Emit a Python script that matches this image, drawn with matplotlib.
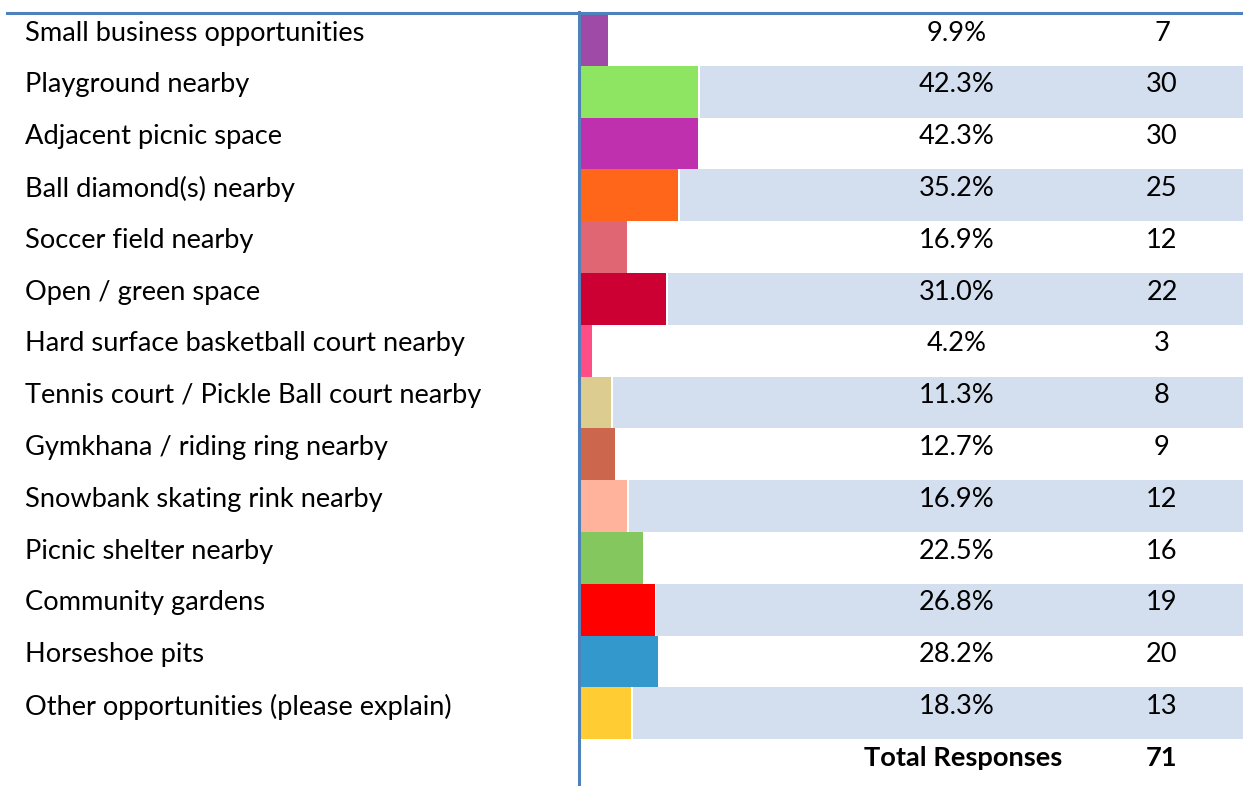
import matplotlib.pyplot as plt
from matplotlib.transforms import blended_transform_factory

# Survey results
options = [
    "Small business opportunities",
    "Playground nearby",
    "Adjacent picnic space",
    "Ball diamond(s) nearby",
    "Soccer field nearby",
    "Open / green space",
    "Hard surface basketball court nearby",
    "Tennis court / Pickle Ball court nearby",
    "Gymkhana / riding ring nearby",
    "Snowbank skating rink nearby",
    "Picnic shelter nearby",
    "Community gardens",
    "Horseshoe pits",
    "Other opportunities (please explain)",
]
percents = [9.9, 42.3, 42.3, 35.2, 16.9, 31.0, 4.2, 11.3, 12.7, 16.9, 22.5, 26.8, 28.2, 18.3]
counts = [7, 30, 30, 25, 12, 22, 3, 8, 9, 12, 16, 19, 20, 13]
total_responses = 71

bar_colors = [
    "#9E4AA6", "#8EE562", "#BF30AE", "#FF661A", "#DF6672", "#CC0033", "#FF4D88",
    "#DDCC90", "#CC664D", "#FFB39C", "#84C75E", "#FF0000", "#3399CC", "#FFCC33",
]
band_color = "#D3DFEF"
line_color = "#4F81BD"

plt.rcParams["font.family"] = ["Lato", "DejaVu Sans"]

W, H = 1243, 786
fig = plt.figure(figsize=(W / 100, H / 100), dpi=100)

# bar area: starts right of the vertical rule, 2.78 px per percent
px_per_pct = 2.78
x0, y_top = 580, 14
row_h = 51.8
ax = fig.add_axes([x0 / W, 0, (W - x0) / W, (H - y_top) / H])
ax.set_xlim(0, (W - x0) / px_per_pct)
n_rows = (H - y_top) / row_h
ax.set_ylim(n_rows - 0.5, -0.5)
ax.axis("off")

rows = list(range(len(options)))

# alternating light blue bands (every second row), starting just after the bar
band_rows = [i for i in rows if i % 2 == 1]
ax.barh(band_rows, ax.get_xlim()[1], left=[percents[i] + 0.7 for i in band_rows],
        height=1.0, color=band_color, linewidth=0, zorder=1)
ax.barh(rows, percents, left=0, height=1.0, color=bar_colors, linewidth=0, zorder=2)

# text columns (x in figure pixels, y in rows)
tr = blended_transform_factory(fig.transFigure, ax.transData)
fs = 19.6
dy = -0.13
for i in rows:
    fig.text(25 / W, i + dy, options[i], transform=tr, ha="left", va="center", fontsize=fs)
    fig.text(957 / W, i + dy, f"{percents[i]:.1f}%", transform=tr, ha="center", va="center", fontsize=fs)
    fig.text(1162 / W, i + dy, str(counts[i]), transform=tr, ha="center", va="center", fontsize=fs)

tot = len(options)
fig.text(1062 / W, tot + dy, "Total Responses", transform=tr, ha="right", va="center",
         fontsize=fs, fontweight="bold")
fig.text(1162 / W, tot + dy, str(total_responses), transform=tr, ha="center", va="center",
         fontsize=fs, fontweight="bold")

# rules
fig.add_artist(plt.Line2D([7 / W, 1], [1 - 12.5 / H, 1 - 12.5 / H], color=line_color, linewidth=2.2))
fig.add_artist(plt.Line2D([578.5 / W, 578.5 / W], [0, 1 - 11.5 / H], color=line_color, linewidth=2.2))

fig.savefig("out.png", dpi=100)
